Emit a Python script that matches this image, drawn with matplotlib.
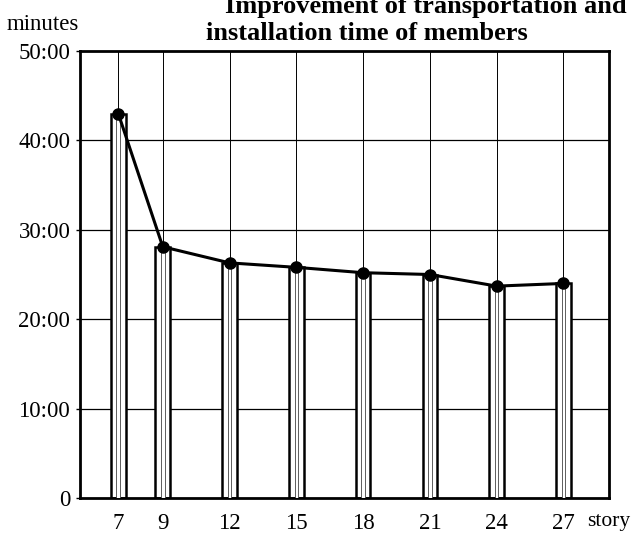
import matplotlib
matplotlib.use("Agg")
import matplotlib.pyplot as plt
from matplotlib.ticker import FuncFormatter

stories = [7, 9, 12, 15, 18, 21, 24, 27]
minutes = [43.0, 28.1, 26.3, 25.8, 25.2, 25.0, 23.7, 24.0]
yticks = [0, 10, 20, 30, 40, 50]
title_line1 = "Improvement of transportation and"
title_line2 = "installation time of members"

plt.rcParams['font.family'] = ['Liberation Serif', 'DejaVu Serif']

fig = plt.figure(figsize=(6.32, 5.39), dpi=100)
ax = fig.add_axes([80/632, 1 - 498/539, (609 - 80)/632, (498 - 51)/539])

ax.set_xlim(5.28, 29.05)
ax.set_ylim(0, 50)

# grid
for y in yticks[1:-1]:
    ax.axhline(y, color='black', lw=0.9, zorder=1)
for s in stories:
    ax.axvline(s, color='black', lw=0.7, zorder=1)

# bars: outer thick outline + inner thin pair of lines
ax.bar(stories, minutes, width=0.66, facecolor='white', edgecolor='black',
       linewidth=1.8, zorder=2)
ax.bar(stories, minutes, width=0.16, facecolor='white', edgecolor='#444444',
       linewidth=0.6, zorder=3)

ax.plot(stories, minutes, color='black', lw=2.2, marker='o', markersize=8,
        zorder=4)

ax.set_yticks(yticks)
ax.yaxis.set_major_formatter(FuncFormatter(lambda v, p: "0" if v == 0 else f"{int(v)}:00"))
ax.set_xticks(stories)
ax.set_xticklabels([str(s) for s in stories])
ax.tick_params(axis='y', length=3, width=1, pad=4, labelsize=16.5)
ax.tick_params(axis='x', length=0, pad=11, labelsize=16.5)

for sp in ax.spines.values():
    sp.set_linewidth(2.0)
    sp.set_color('black')

fig.text(7/632, 1 - 30/539, "minutes", fontsize=16.5, ha='left', va='baseline')
fig.text(630/632, 1 - 526/539, "story", fontsize=15.5, ha='right', va='baseline')

fig.text(627/632, 1 - 13/539, title_line1, fontsize=19, fontweight='bold',
         ha='right', va='baseline')
fig.text(367/632, 1 - 40/539, title_line2, fontsize=19, fontweight='bold',
         ha='center', va='baseline')

fig.savefig("out.png", dpi=100)
